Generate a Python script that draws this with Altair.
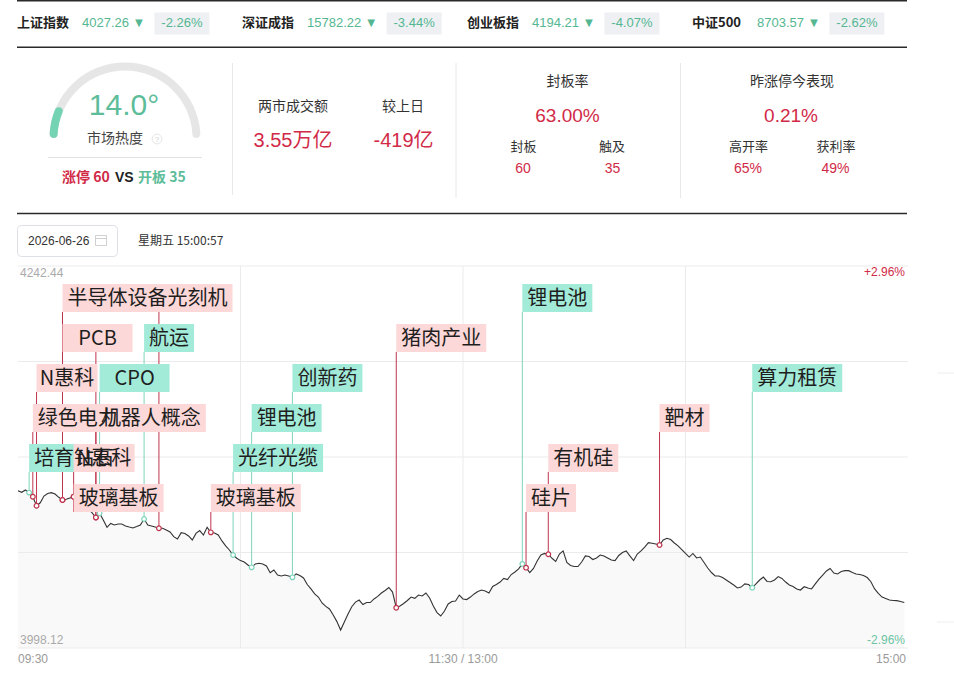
import math
import altair as alt
import pandas as pd

# ---------------- data ----------------
index_names = ["上证指数", "深证成指", "创业板指", "中证500"]
index_points = [4027.26, 15782.22, 4194.21, 8703.57]
index_pcts = [-2.26, -3.44, -4.07, -2.62]

heat = 14.0
limit_up_count = 60
opened_count = 35
turnover_text = "3.55万亿"
turnover_diff_text = "-419亿"
seal_rate = 63.00
sealed_count = 60
touched_count = 35
yday_perf = 0.21
high_open_rate = 65
profit_rate = 49

trade_date = "2026-06-26"
trade_time = "星期五 15:00:57"

price_max = 4242.44
price_min = 3998.12
prev_close = 4120.28

# one value per minute from 09:30 (minute 0)
price = [
    4098.7, 4097.7, 4099.2, 4097.5, 4094.9, 4089.1, 4091.0, 4095.3, 4096.9, 4097.5,
    4096.6, 4094.5, 4092.8, 4093.2, 4094.1, 4094.9, 4092.8, 4090.9, 4088.9, 4087.0,
    4084.5, 4081.6, 4084.3, 4080.0, 4075.3, 4077.8, 4076.8, 4077.4, 4077.4, 4076.2,
    4075.5, 4074.9, 4075.8, 4076.8, 4080.6, 4076.8, 4076.2, 4075.5, 4074.7, 4074.7,
    4073.6, 4072.3, 4069.3, 4067.8, 4071.9, 4071.4, 4069.8, 4067.2, 4071.4, 4073.2,
    4070.4, 4075.3, 4072.1, 4071.7, 4070.4, 4066.6, 4063.4, 4060.8, 4057.6, 4055.5,
    4054.0, 4053.1, 4051.2, 4049.7, 4051.9, 4052.3, 4051.9, 4050.6, 4046.3, 4048.0,
    4044.8, 4044.2, 4044.8, 4044.2, 4043.3, 4045.5, 4044.5, 4042.9, 4038.7, 4035.9,
    4032.7, 4030.7, 4026.9, 4024.7, 4023.1, 4019.2, 4015.0, 4009.6, 4014.8, 4019.9,
    4024.5, 4027.5, 4028.8, 4025.9, 4027.2, 4027.2, 4029.5, 4031.1, 4033.3, 4034.9,
    4036.8, 4033.9, 4023.9, 4025.0, 4026.6, 4028.5, 4030.7, 4029.9, 4032.0, 4031.4,
    4033.3, 4030.1, 4025.0, 4020.8, 4018.6, 4021.8, 4026.3, 4027.9, 4028.2, 4032.0,
    4029.5, 4029.1, 4030.7, 4032.7, 4034.3, 4035.2, 4034.6, 4033.3, 4037.5, 4038.7,
    4040.3, 4042.6, 4041.9, 4045.1, 4046.7, 4048.7, 4051.9, 4049.5, 4046.3, 4049.0,
    4053.8, 4057.6, 4058.6, 4058.1, 4055.5, 4053.5, 4058.2, 4060.2, 4052.8, 4050.9,
    4050.2, 4050.2, 4053.1, 4057.0, 4056.6, 4054.7, 4055.7, 4057.6, 4057.0, 4055.7,
    4054.4, 4054.0, 4057.3, 4059.2, 4060.2, 4057.0, 4054.1, 4058.2, 4060.2, 4062.7,
    4065.5, 4065.1, 4064.6, 4064.0, 4067.2, 4068.3, 4067.5, 4065.3, 4063.4, 4061.1,
    4058.6, 4056.3, 4058.6, 4055.7, 4056.3, 4052.8, 4049.3, 4046.4, 4044.2, 4044.2,
    4043.2, 4041.6, 4040.0, 4038.4, 4036.5, 4037.1, 4039.1, 4038.7, 4036.7, 4039.1,
    4041.6, 4043.5, 4040.7, 4040.5, 4041.6, 4043.8, 4042.6, 4040.3, 4038.4, 4037.5,
    4035.9, 4035.2, 4037.3, 4036.5, 4035.9, 4039.1, 4042.2, 4044.8, 4047.4, 4049.0,
    4046.1, 4045.5, 4047.0, 4047.6, 4047.6, 4046.4, 4045.5, 4045.1, 4044.5, 4043.2,
    4040.5, 4035.9, 4033.0, 4030.7, 4029.8, 4028.8, 4028.5, 4028.4, 4027.9, 4027.26,
]

event_minutes = [3, 4, 5, 12, 12, 15, 15, 21, 22, 34, 52, 58, 63, 74, 102, 136, 137, 143, 173, 198]
event_labels = ["培育钻石", "绿色电力", "N惠科", "半导体设备光刻机", "PCB", "N惠科", "玻璃基板",
                "机器人概念", "CPO", "航运", "玻璃基板", "光纤光缆", "锂电池", "创新药", "猪肉产业",
                "锂电池", "硅片", "有机硅", "靶材", "算力租赁"]
event_kinds = ["fall", "rise", "rise", "rise", "rise", "rise", "rise",
               "rise", "fall", "fall", "rise", "fall", "fall", "fall", "rise",
               "fall", "rise", "rise", "rise", "fall"]
event_levels = [5, 4, 3, 1, 2, 5, 6, 4, 3, 2, 6, 5, 4, 3, 2, 1, 6, 5, 4, 3]

# events whose labels are hidden under other labels (only their lines show)
hidden_minutes = [21, 38]
hidden_levels = [2, 1]
hidden_kinds = ["rise", "rise"]

time_labels = ["09:30", "11:30 / 13:00", "15:00"]
time_label_minutes = [0, 120, 240]
grid_minutes = [60, 120, 180]

# ---------------- layout / style ----------------
W, H = 954, 685
X0, X1 = 18, 908
Y0, Y1 = 266, 648
N_MIN = 240
LEVEL_OFF, LEVEL_STEP, BOX_H = 18, 40, 28

CJK = "Noto Sans CJK SC"
NUM = "Liberation Sans, DejaVu Sans, Noto Sans CJK SC"
RED = "#d12a47"
GREEN = "#55b792"
LINE_RED = "#bf344d"
LINE_GREEN = "#7fd4bb"
BOX_RED = "#fdd8d8"
BOX_GREEN = "#a3ebd9"
GRAY = "#9a9a9a"

ppp = (price_max - price_min) / (Y1 - Y0)   # price per pixel
ppm = (X1 - X0) / N_MIN                      # pixel per minute

xs = alt.Scale(domain=[0, N_MIN], range=[X0, X1], nice=False, zero=False)
ys = alt.Scale(domain=[price_min, price_max], range=[Y1, Y0], nice=False, zero=False)
stroke_scale = alt.Scale(domain=["rise", "fall"], range=[LINE_RED, LINE_GREEN])
fill_scale = alt.Scale(domain=["rise", "fall"], range=[BOX_RED, BOX_GREEN])

ONE = pd.DataFrame({"_": [0]})


def level_top(lv):
    return price_max - (LEVEL_OFF + LEVEL_STEP * (lv - 1)) * ppp


def box_width(label):
    if label.isascii():
        return 20 * len(label) + 10
    return sum(20 if ord(c) > 255 else 11 for c in label) + 10


def txt(s, x, y, color="#333", size=13, weight="normal", align="left", font=CJK, baseline="middle"):
    return alt.Chart(ONE).mark_text(
        text=s, align=align, baseline=baseline, font=font, fontSize=size,
        fontWeight=weight, color=color
    ).encode(x=alt.value(x), y=alt.value(y))


def hline(x1, x2, y, color="#e8e8e8", sw=1):
    return alt.Chart(ONE).mark_rule(color=color, strokeWidth=sw).encode(
        x=alt.value(x1), x2=alt.value(x2), y=alt.value(y))


def vline(x, y1, y2, color="#e8e8e8", sw=1):
    return alt.Chart(ONE).mark_rule(color=color, strokeWidth=sw).encode(
        x=alt.value(x), y=alt.value(y1), y2=alt.value(y2))


def box(x1, y1, x2, y2, fill="#ffffff", stroke=None, radius=0):
    props = dict(fill=fill, cornerRadius=radius)
    if stroke:
        props.update(stroke=stroke, strokeWidth=1)
    return alt.Chart(ONE).mark_rect(**props).encode(
        x=alt.value(x1), x2=alt.value(x2), y=alt.value(y1), y2=alt.value(y2))


layers = []

# ---------------- header ----------------
layers.append(hline(17, 907, 0.8, color="#2a2a2a", sw=1.6))
layers.append(hline(17, 907, 47.3, color="#2a2a2a", sw=1.4))
for i, (nm, pt, pc) in enumerate(zip(index_names, index_points, index_pcts)):
    nx = 17 + i * 225
    vx = nx + 65
    vs = f"{pt:.2f} ▼"
    bx = vx + len(f"{pt:.2f}") * 7.2 + 22
    layers.append(txt(nm, nx, 23, color="#222", size=13, weight="bold"))
    layers.append(txt(vs, vx, 23, color=GREEN, size=13, font=NUM))
    layers.append(box(bx, 12.5, bx + 55, 34.5, fill="#eef0f3"))
    layers.append(txt(f"{pc:.2f}%", bx + 27.5, 23, color=GREEN, size=13, font=NUM, align="center"))

# ---------------- stats cards ----------------
theta_start = 1.5 * math.pi
for frac, col in ((1.0, "#e6e6e6"), (heat / 100.0, "#74d3b2")):
    layers.append(
        alt.Chart(ONE).mark_arc(
            theta=theta_start, theta2=theta_start + frac * math.pi,
            radius=75.5, radius2=67.5, cornerRadius=4, color=col
        ).encode(x=alt.value(125), y=alt.value(138))
    )
layers.append(txt(f"{heat:.1f}°", 124, 106, color="#5dbd9a", size=30, align="center", font=NUM))
layers.append(txt("市场热度", 115, 139, color="#444", size=14, align="center"))
layers.append(alt.Chart(ONE).mark_point(shape="circle", size=95, filled=False, color="#dcdcdc",
                                        strokeWidth=1).encode(x=alt.value(157), y=alt.value(139)))
layers.append(txt("?", 157, 139.5, color="#cfcfcf", size=8, align="center", font=NUM))
layers.append(hline(48, 202, 157.5, color="#e3e3e3"))
layers.append(txt(f"涨停 {limit_up_count}", 62, 178, color=RED, size=14, weight="bold"))
layers.append(txt("VS", 115, 178, color="#222", size=14, weight="bold", font=NUM))
layers.append(txt(f"开板 {opened_count}", 138, 178, color="#5dbd9a", size=14, weight="bold"))

layers.append(vline(232.5, 63, 195))
layers.append(vline(456, 63, 198))
layers.append(vline(680.5, 63, 198))

layers.append(txt("两市成交额", 293, 107, color="#333", size=14, align="center"))
layers.append(txt("较上日", 403, 107, color="#333", size=14, align="center"))
layers.append(txt(turnover_text, 293, 141, color=RED, size=20, align="center", font=NUM))
layers.append(txt(turnover_diff_text, 403.5, 141, color=RED, size=20, align="center", font=NUM))

layers.append(txt("封板率", 567.5, 82, color="#333", size=14, align="center"))
layers.append(txt(f"{seal_rate:.2f}%", 567.5, 115.5, color=RED, size=19, align="center", font=NUM))
layers.append(txt("封板", 523.5, 147, color="#333", size=13, align="center"))
layers.append(txt("触及", 612, 147, color="#333", size=13, align="center"))
layers.append(txt(str(sealed_count), 523, 169, color=RED, size=14, align="center", font=NUM))
layers.append(txt(str(touched_count), 612.5, 169, color=RED, size=14, align="center", font=NUM))

layers.append(txt("昨涨停今表现", 792, 82, color="#333", size=14, align="center"))
layers.append(txt(f"{yday_perf:.2f}%", 791, 115.5, color=RED, size=19, align="center", font=NUM))
layers.append(txt("高开率", 748.5, 147, color="#333", size=13, align="center"))
layers.append(txt("获利率", 836, 147, color="#333", size=13, align="center"))
layers.append(txt(f"{high_open_rate}%", 748, 169, color=RED, size=14, align="center", font=NUM))
layers.append(txt(f"{profit_rate}%", 835.5, 169, color=RED, size=14, align="center", font=NUM))

layers.append(hline(17, 907, 213.5, color="#2a2a2a", sw=1.3))

# ---------------- date row ----------------
layers.append(box(17.5, 225.5, 117.5, 256.5, fill="#ffffff", stroke="#dcdfe6", radius=4))
layers.append(txt(trade_date, 28, 240.5, color="#333", size=12, font=NUM))
layers.append(box(95.5, 235.5, 106.5, 245.5, fill="#ffffff", stroke="#d0d0d0"))
layers.append(hline(95.5, 106.5, 238.5, color="#d0d0d0"))
layers.append(txt(trade_time, 138, 240.5, color="#333", size=12))

# ---------------- intraday chart ----------------
price_df = pd.DataFrame({"minute": list(range(len(price))), "price": price})
price_df["base"] = price_min

layers.append(
    alt.Chart(price_df).mark_area(color="#f9f9f9").encode(
        x=alt.X("minute:Q", scale=xs, axis=None),
        y=alt.Y("price:Q", scale=ys, axis=None),
        y2="base:Q",
    )
)

grid_prices = [price_max - k * (price_max - price_min) / 4 for k in range(5)]
gh = pd.DataFrame({"p": grid_prices, "m0": 0, "m1": N_MIN})
layers.append(
    alt.Chart(gh).mark_rule(color="#ebebeb", strokeWidth=1).encode(
        y=alt.Y("p:Q", scale=ys, axis=None),
        x=alt.X("m0:Q", scale=xs, axis=None), x2="m1:Q")
)
gv = pd.DataFrame({"m": grid_minutes, "p0": price_min, "p1": price_max})
layers.append(
    alt.Chart(gv).mark_rule(color="#ebebeb", strokeWidth=1).encode(
        x=alt.X("m:Q", scale=xs, axis=None),
        y=alt.Y("p0:Q", scale=ys, axis=None), y2="p1:Q")
)

layers.append(
    alt.Chart(price_df).mark_line(color="#333333", strokeWidth=1.1).encode(
        x=alt.X("minute:Q", scale=xs, axis=None),
        y=alt.Y("price:Q", scale=ys, axis=None),
    )
)

ev = pd.DataFrame({"minute": event_minutes, "label": event_labels,
                   "kind": event_kinds, "level": event_levels})
ev["price"] = [price[m] for m in ev["minute"]]
ev["top"] = [level_top(lv) for lv in ev["level"]]
ev["bottom"] = ev["top"] - BOX_H * ppp
ev["mid"] = ev["top"] - BOX_H / 2 * ppp
ev["x2"] = ev["minute"] + ev["label"].map(box_width) / ppm
ev["xc"] = (ev["minute"] + ev["x2"]) / 2

hid = pd.DataFrame({"minute": hidden_minutes, "kind": hidden_kinds, "level": hidden_levels})
hid["price"] = [price[m] for m in hid["minute"]]
hid["bottom"] = [level_top(lv) - BOX_H * ppp for lv in hid["level"]]

for d in (hid, ev):
    layers.append(
        alt.Chart(d).mark_rule(strokeWidth=1).encode(
            x=alt.X("minute:Q", scale=xs, axis=None),
            y=alt.Y("price:Q", scale=ys, axis=None),
            y2="bottom:Q",
            stroke=alt.Stroke("kind:N", scale=stroke_scale, legend=None),
        )
    )
for d in (hid, ev):
    layers.append(
        alt.Chart(d).mark_point(shape="circle", size=22, filled=False, fill="#ffffff",
                                fillOpacity=1, strokeWidth=1.2, opacity=1).encode(
            x=alt.X("minute:Q", scale=xs, axis=None),
            y=alt.Y("price:Q", scale=ys, axis=None),
            stroke=alt.Stroke("kind:N", scale=stroke_scale, legend=None),
        )
    )

layers.append(
    alt.Chart(ev).mark_rect().encode(
        x=alt.X("minute:Q", scale=xs, axis=None), x2="x2:Q",
        y=alt.Y("top:Q", scale=ys, axis=None), y2="bottom:Q",
        fill=alt.Fill("kind:N", scale=fill_scale, legend=None),
    )
)
layers.append(
    alt.Chart(ev).mark_text(font=CJK, fontSize=20, color="#1e1e1e", align="center",
                            baseline="middle", dy=0.5).encode(
        x=alt.X("xc:Q", scale=xs, axis=None),
        y=alt.Y("mid:Q", scale=ys, axis=None),
        text="label:N",
    )
)

# axis texts
layers.append(txt(f"{price_max:.2f}", 20, 273, color="#aaaaaa", size=12, font=NUM))
layers.append(txt(f"{price_min:.2f}", 20, 640, color="#aaaaaa", size=12, font=NUM))
layers.append(txt(f"+{(price_max / prev_close - 1) * 100:.2f}%", 905, 272, color=RED, size=12,
                  align="right", font=NUM))
layers.append(txt(f"{(price_min / prev_close - 1) * 100:.2f}%", 905, 640, color="#6cc4a4", size=12,
                  align="right", font=NUM))
for lab, m, al in zip(time_labels, time_label_minutes, ["left", "center", "right"]):
    layers.append(txt(lab, X0 + m * ppm + (0 if al != "right" else -2), 659, color=GRAY, size=12,
                      align=al, font=NUM))

# faint edges of the neighbouring panel
layers.append(hline(937, 954, 373, color="#eeeeee"))
layers.append(hline(937, 954, 622, color="#eeeeee"))

chart = alt.layer(*layers).properties(
    width=W, height=H, autosize=alt.AutoSizeParams(type="none"), padding=0,
    background="#ffffff",
).configure_view(stroke=None)

chart.save("out.html", embed_options={"renderer": "svg", "actions": False})
